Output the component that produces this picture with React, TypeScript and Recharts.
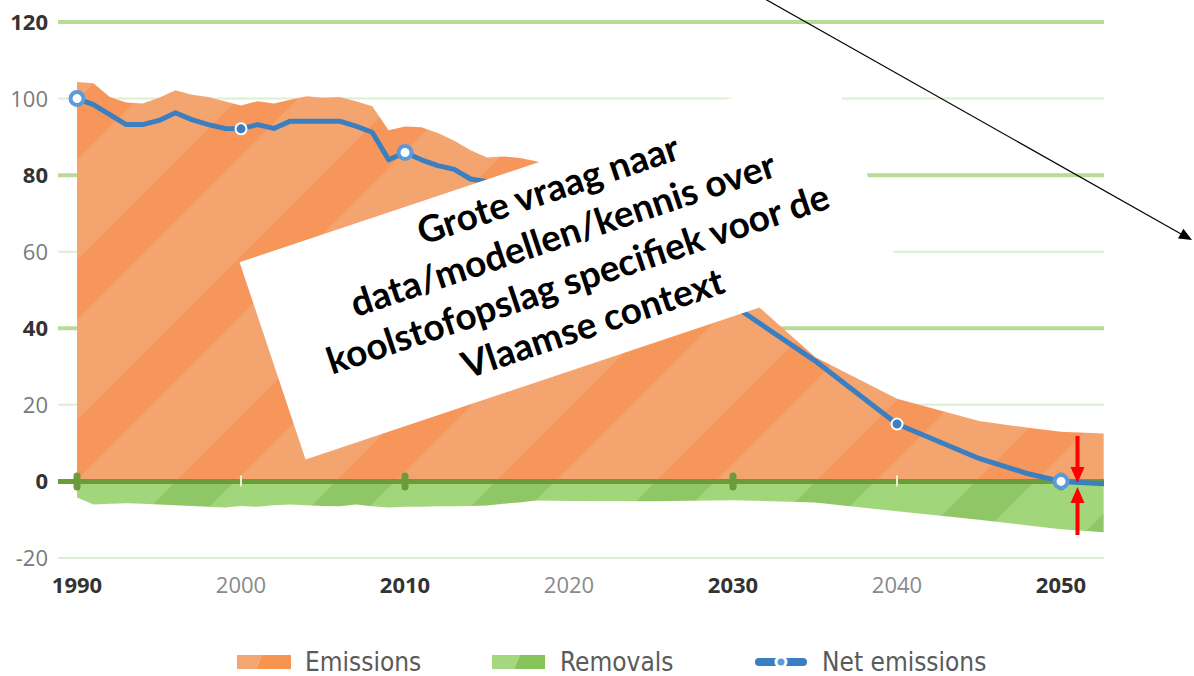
import React from 'react';
import {
  ComposedChart,
  Area,
  Line,
  XAxis,
  YAxis,
  CartesianGrid,
  ReferenceLine,
  ReferenceDot,
} from 'recharts';

// ---------- data ----------
const years = [
  1990, 1991, 1992, 1993, 1994, 1995, 1996, 1997, 1998, 1999,
  2000, 2001, 2002, 2003, 2004, 2005, 2006, 2007, 2008, 2009,
  2010, 2011, 2012, 2013, 2014, 2015, 2016, 2017, 2018, 2020,
  2025, 2030, 2035, 2040, 2045, 2048, 2050, 2052.6,
];
const emissions = [
  104.3, 104.0, 100.4, 99.0, 98.7, 100.2, 102.2, 101.0, 100.4, 99.3,
  98.2, 99.3, 98.7, 99.7, 100.6, 100.2, 100.4, 99.3, 98.0, 91.7,
  92.7, 92.5, 91.0, 89.0, 86.5, 84.6, 84.9, 84.5, 83.6, 80.0,
  66.0, 51.6, 32.5, 21.6, 15.8, 14.0, 13.0, 12.5,
];
const removals = [
  -4.2, -6.0, -5.8, -5.7, -5.8, -6.0, -6.2, -6.4, -6.6, -6.8,
  -6.4, -6.6, -6.2, -6.0, -6.2, -6.4, -6.5, -6.0, -6.5, -6.8,
  -6.6, -6.6, -6.5, -6.5, -6.4, -6.3, -5.8, -5.5, -5.0, -5.1,
  -5.2, -4.9, -5.5, -7.8, -10.0, -11.5, -12.5, -13.3,
];
const netEmissions = [
  100, 98.4, 95.8, 93.2, 93.2, 94.3, 96.3, 94.5, 93.2, 92.2,
  92.1, 93.2, 92.2, 94.1, 94.1, 94.1, 94.1, 92.8, 91.2, 84.0,
  85.9, 84.0, 82.5, 81.5, 79.0, 78.3, 78.0, 78.5, 78.0, 75.0,
  61.0, 46.0, 31.5, 15.0, 6.0, 2.0, 0.0, -0.6,
];

const yTicks = [-20, 0, 20, 40, 60, 80, 100, 120];
const yBoldTicks = [0, 40, 80, 120];
const majorGrid = [40, 80, 120];
const minorGrid = [-20, 20, 60, 100];
const xTicks = [1990, 2000, 2010, 2020, 2030, 2040, 2050];
const xBoldTicks = [1990, 2010, 2030, 2050];
const bigMarkerYears = [1990, 2010, 2050];
const smallMarkerYears = [2000, 2040];
const axisPillYears = [1990, 2010, 2030, 2050];
const axisSmallTickYears = [2000, 2040];

const legendLabels = ['Emissions', 'Removals', 'Net emissions'];
const noteLines = [
  'Grote vraag naar',
  'data/modellen/kennis over',
  'koolstofopslag specifiek voor de',
  'Vlaamse context',
];

const data = years.map((yr, i) => ({
  year: yr,
  emissions: emissions[i],
  removals: removals[i],
  net: netEmissions[i],
}));

// ---------- styles ----------
const W = 1194;
const H = 676;
const BLUE = '#3b7fc0';
const RING = '#5c9bd7';
const ZERO_GREEN = '#6c9b3c';
const NUM_FONT = "'Open Sans', 'Noto Sans', sans-serif";
const LEGEND_FONT = "'DejaVu Sans Condensed', 'DejaVu Sans', sans-serif";

const YTick = (props: any) => {
  const { x, y, payload } = props;
  const bold = yBoldTicks.includes(payload.value);
  return (
    <text
      x={x}
      y={y + 8}
      textAnchor="end"
      fontFamily={NUM_FONT}
      fontSize={22}
      fontWeight={bold ? 700 : 400}
      fill={bold ? '#333333' : '#7a7a7a'}
    >
      {payload.value}
    </text>
  );
};

const XTick = (props: any) => {
  const { x, y, payload } = props;
  const bold = xBoldTicks.includes(payload.value);
  return (
    <text
      x={x}
      y={y + 35}
      textAnchor="middle"
      fontFamily={NUM_FONT}
      fontSize={22}
      fontWeight={bold ? 700 : 400}
      fill={bold ? '#333333' : '#8a8a8a'}
    >
      {payload.value}
    </text>
  );
};

const renderDot = (props: any) => {
  const { cx, cy, payload, index } = props;
  const yr = payload && payload.year;
  if (bigMarkerYears.includes(yr)) {
    return (
      <circle key={`d${index}`} cx={cx} cy={cy} r={6.5} fill="#ffffff" stroke={RING} strokeWidth={4} />
    );
  }
  if (smallMarkerYears.includes(yr)) {
    return (
      <circle key={`d${index}`} cx={cx} cy={cy} r={5.5} fill={BLUE} stroke="#ffffff" strokeWidth={2} />
    );
  }
  return <g key={`d${index}`} />;
};

const Pill = (props: any) => (
  <rect x={props.cx - 3.5} y={props.cy - 9} width={7} height={18} rx={3.5} fill={ZERO_GREEN} />
);
const SmallTick = (props: any) => (
  <rect x={props.cx - 1} y={props.cy - 6} width={2} height={11} fill="#eef4c9" />
);

export default function App() {
  return (
    <div style={{ position: 'absolute', left: 0, top: 0, width: W, height: H, background: '#ffffff' }}>
      <svg
        width={W}
        height={H}
        style={{ position: 'absolute', left: 0, top: 0, overflow: 'visible' }}
      >
        <defs>
          <pattern
            id="orangeStripes"
            patternUnits="userSpaceOnUse"
            width={113.14}
            height={20}
            patternTransform="rotate(45)"
          >
            <rect x={0} y={0} width={113.14} height={20} fill="#f3a46f" />
            <rect x={12} y={0} width={42} height={20} fill="#f6965a" />
          </pattern>
          <pattern
            id="greenStripes"
            patternUnits="userSpaceOnUse"
            width={113.14}
            height={20}
            patternTransform="rotate(45)"
          >
            <rect x={0} y={0} width={113.14} height={20} fill="#a2d67b" />
            <rect x={12} y={0} width={42} height={20} fill="#8fc766" />
          </pattern>
        </defs>
      </svg>
      <div style={{ position: 'absolute', left: 0, top: 0 }}>
        <ComposedChart
          width={W}
          height={H}
          data={data}
          margin={{ top: 22, right: 90, left: 0, bottom: 88 }}
        >
          <CartesianGrid
            vertical={false}
            horizontalValues={minorGrid}
            stroke="#dcefcf"
            strokeWidth={2}
          />
          <CartesianGrid
            vertical={false}
            horizontalValues={majorGrid}
            stroke="#b7dc99"
            strokeWidth={4}
          />
          <XAxis
            type="number"
            dataKey="year"
            domain={[1988.84, 2052.62]}
            allowDataOverflow
            ticks={xTicks}
            interval={0}
            tickLine={false}
            axisLine={false}
            tickSize={0}
            tickMargin={0}
            tick={<XTick />}
            height={30}
          />
          <YAxis
            type="number"
            domain={[-20, 120]}
            allowDataOverflow
            ticks={yTicks}
            interval={0}
            tickLine={false}
            axisLine={false}
            tickSize={0}
            tickMargin={10}
            width={58}
            tick={<YTick />}
          />
          <Area
            type="linear"
            dataKey="emissions"
            baseValue={0}
            stroke="none"
            fill="url(#orangeStripes)"
            fillOpacity={1}
            isAnimationActive={false}
            activeDot={false}
          />
          <Area
            type="linear"
            dataKey="removals"
            baseValue={0}
            stroke="none"
            fill="url(#greenStripes)"
            fillOpacity={1}
            isAnimationActive={false}
            activeDot={false}
          />
          <ReferenceLine y={0} stroke={ZERO_GREEN} strokeWidth={5} zIndex={350} />
          {axisPillYears.map((yr) => (
            <ReferenceDot key={`p${yr}`} x={yr} y={0} r={4} shape={<Pill />} zIndex={360} />
          ))}
          {axisSmallTickYears.map((yr) => (
            <ReferenceDot key={`s${yr}`} x={yr} y={0} r={2} shape={<SmallTick />} zIndex={360} />
          ))}
          <Line
            type="linear"
            dataKey="net"
            stroke={BLUE}
            strokeWidth={5}
            strokeLinejoin="round"
            strokeLinecap="round"
            dot={renderDot}
            activeDot={false}
            isAnimationActive={false}
            zIndex={400}
          />
        </ComposedChart>
      </div>
      <svg
        width={W}
        height={H}
        style={{ position: 'absolute', left: 0, top: 0, pointerEvents: 'none' }}
      >
        {/* annotation box */}
        <g transform="translate(568,262) rotate(-18.5)">
          <rect x={-311.5} y={-104} width={623} height={208} fill="#ffffff" />
          {noteLines.map((t, i) => (
            <text
              key={t}
              x={4}
              y={-6 + (i - 1.5) * 47}
              textAnchor="middle"
              dominantBaseline="central"
              fontFamily="Lato, 'Open Sans', sans-serif"
              fontWeight={700}
              fontSize={37}
              fill="#000000"
            >
              {t}
            </text>
          ))}
        </g>
        {/* arrow */}
        <line x1={765} y1={-1} x2={1182} y2={234.5} stroke="#000000" strokeWidth={1.2} />
        <polygon points="1192,240 1178,238.4 1183.4,228.8" fill="#000000" />
        {/* red arrows */}
        <rect x={1075.5} y={436} width={4} height={34} fill="#ff0000" />
        <polygon points="1070.5,467 1084.5,467 1077.5,483" fill="#ff0000" />
        <polygon points="1077.5,487 1070.5,503 1084.5,503" fill="#ff0000" />
        <rect x={1075.5} y={500} width={4} height={35} fill="#ff0000" />
        {/* legend */}
        <polygon points="237,655 262,655 256,669 237,669" fill="#f3a671" />
        <polygon points="262,655 291,655 291,669 256,669" fill="#f6954f" />
        <text x={305} y={671} fontFamily={LEGEND_FONT} fontStretch="condensed" fontSize={26} fill="#5a5a5a">
          {legendLabels[0]}
        </text>
        <polygon points="492,655 520,655 514,669 492,669" fill="#a5d87e" />
        <polygon points="520,655 545,655 545,669 514,669" fill="#86c35a" />
        <text x={560} y={671} fontFamily={LEGEND_FONT} fontStretch="condensed" fontSize={26} fill="#5a5a5a">
          {legendLabels[1]}
        </text>
        <line x1={759} y1={662} x2={803} y2={662} stroke={BLUE} strokeWidth={8} strokeLinecap="round" />
        <circle cx={781} cy={662} r={6.5} fill="#ffffff" />
        <circle cx={781} cy={662} r={3.5} fill={RING} />
        <text x={822} y={671} fontFamily={LEGEND_FONT} fontStretch="condensed" fontSize={26} fill="#5a5a5a">
          {legendLabels[2]}
        </text>
      </svg>
    </div>
  );
}
